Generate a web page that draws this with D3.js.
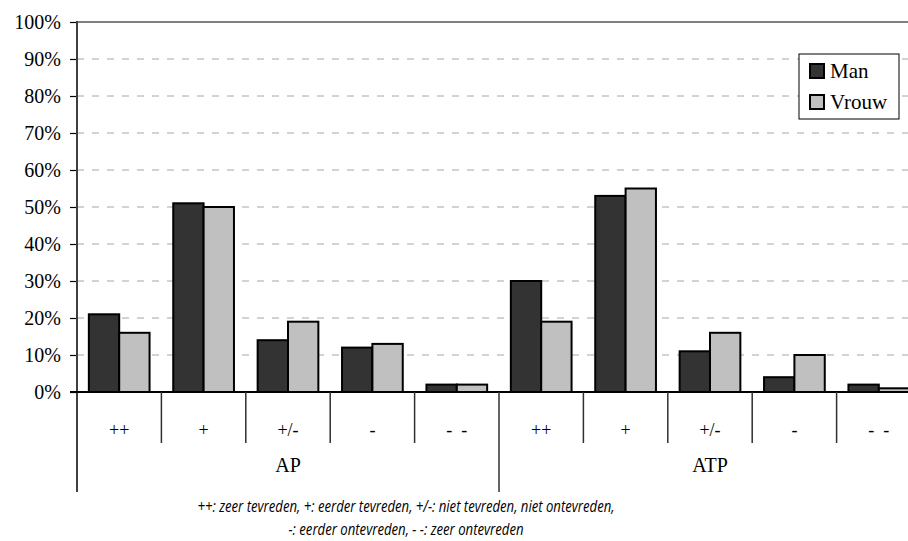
<!DOCTYPE html>
<html>
<head>
<meta charset="utf-8">
<script src="https://cdn.jsdelivr.net/npm/d3@7"></script>
<style>
  html, body { margin: 0; padding: 0; background: #fff; overflow: hidden; }
  svg { display: block; }
</style>
</head>
<body>
<div id="chart"></div>
<script>

// дані
var groups = ["AP", "ATP"];
var answers = ["++", "+", "+/-", "-", "- -"];
var series = ["Man", "Vrouw"];
var man = [21, 51, 14, 12, 2, 30, 53, 11, 4, 2];
var vrouw = [16, 50, 19, 13, 2, 19, 55, 16, 10, 1];
var yTicks = [0, 10, 20, 30, 40, 50, 60, 70, 80, 90, 100];
var footnote = [
    "++: zeer tevreden, +: eerder tevreden, +/-: niet tevreden, niet ontevreden,",
    "-: eerder ontevreden, - -: zeer ontevreden"
];

var color = d3.scaleOrdinal()
    .domain(series)
    .range(["#333333", "#c0c0c0"]);

const width = 908, height = 541;
const margin = {top: 22, left: 77, bottom: 392};
const fontSerif = "Liberation Serif";

// кожна категорія = група + відповідь
var cats = [];
groups.forEach(function(g) {
    answers.forEach(function(a) { cats.push({group: g, answer: a, key: g + "|" + a}); });
});
var rows = cats.map(function(c, i) {
    return {key: c.key, group: c.group, answer: c.answer, Man: man[i], Vrouw: vrouw[i]};
});

const svg = d3.select("#chart").append("svg")
    .attr("width", width)
    .attr("height", height)
    .attr("font-family", fontSerif);

// частина графіка обрізана справа, тому діапазон виходить за межі svg
var x = d3.scaleBand()
    .domain(cats.map(function(c) { return c.key }))
    .range([margin.left, 921])
    .padding(0);

var xs = d3.scaleBand()
    .domain(series)
    .range([0, x.bandwidth()])
    .paddingInner(0)
    .paddingOuter(0.39);

var y = d3.scaleLinear()
    .domain([0, 100])
    .range([margin.bottom, margin.top]);

// сітка
svg.append("g")
    .selectAll("line")
    .data(yTicks.filter(function(t) { return t > 0 && t < 100 }))
    .enter().append("line")
    .attr("x1", margin.left)
    .attr("x2", width)
    .attr("y1", function(d) { return y(d) })
    .attr("y2", function(d) { return y(d) })
    .style("stroke", "#a6a6a6")
    .style("stroke-width", 1)
    .style("stroke-dasharray", "7,8");

// верхня лінія 100%
svg.append("line")
    .attr("x1", margin.left).attr("x2", width)
    .attr("y1", y(100)).attr("y2", y(100))
    .style("stroke", "#808080")
    .style("stroke-width", 2);

// вісь y
var yAxis = svg.append("g")
    .attr("transform", "translate(" + margin.left + ",0)")
    .call(d3.axisLeft(y).tickValues(yTicks).tickSize(7).tickPadding(9)
        .tickFormat(function(d) { return d + "%" }));
yAxis.attr("font-family", fontSerif).attr("font-size", 20);
yAxis.select(".domain").remove();
yAxis.selectAll(".tick line").style("stroke", "#000").style("stroke-width", 1.2);
yAxis.selectAll("text").attr("fill", "#000");

svg.append("line")
    .attr("x1", margin.left).attr("x2", margin.left)
    .attr("y1", margin.top - 1).attr("y2", 492)
    .style("stroke", "#404040")
    .style("stroke-width", 2);

// стовпчики
var bars = svg.append("g")
    .selectAll("g")
    .data(rows)
    .enter().append("g")
    .attr("transform", function(d) { return "translate(" + x(d.key) + ",0)" });

bars.selectAll("rect")
    .data(function(d) { return series.map(function(s) { return {s: s, v: d[s]} }) })
    .enter().append("rect")
    .attr("x", function(d) { return xs(d.s) })
    .attr("y", function(d) { return y(d.v) })
    .attr("width", xs.bandwidth())
    .attr("height", function(d) { return y(0) - y(d.v) })
    .style("fill", function(d) { return color(d.s) })
    .style("stroke", "#000")
    .style("stroke-width", 2);

// лінія 0%
svg.append("line")
    .attr("x1", margin.left - 7).attr("x2", width)
    .attr("y1", y(0)).attr("y2", y(0))
    .style("stroke", "#000")
    .style("stroke-width", 2);

// роздільники категорій
svg.append("g")
    .selectAll("line")
    .data(cats.filter(function(c, i) { return i > 0 }))
    .enter().append("line")
    .attr("x1", function(d) { return x(d.key) })
    .attr("x2", function(d) { return x(d.key) })
    .attr("y1", y(0))
    .attr("y2", function(d) { return d.answer === answers[0] ? 492 : 443 })
    .style("stroke", "#303030")
    .style("stroke-width", 1.5);

svg.append("g")
    .attr("font-family", fontSerif)
    .attr("font-size", 18)
    .selectAll("text")
    .data(cats)
    .enter().append("text")
    .attr("x", function(d) { return x(d.key) + x.bandwidth() / 2 })
    .attr("y", 436)
    .attr("text-anchor", "middle")
    .attr("xml:space", "preserve")
    .text(function(d) { return d.answer.replace(" ", "\u00a0\u00a0") });

svg.append("g")
    .attr("font-family", fontSerif)
    .attr("font-size", 20)
    .selectAll("text")
    .data(groups)
    .enter().append("text")
    .attr("x", function(g) {
        var ks = cats.filter(function(c) { return c.group === g });
        return (x(ks[0].key) + x(ks[ks.length - 1].key) + x.bandwidth()) / 2;
    })
    .attr("y", 472)
    .attr("text-anchor", "middle")
    .text(function(g) { return g });

// примітка
svg.append("g")
    .attr("font-family", "Open Sans")
    .attr("font-style", "italic")
    .attr("font-size", 16)
    .selectAll("text")
    .data(footnote)
    .enter().append("text")
    .attr("x", 406)
    .attr("y", function(d, i) { return 512 + i * 23 })
    .attr("text-anchor", "middle")
    .attr("textLength", function(d, i) { return i === 0 ? 417 : 235 })
    .attr("lengthAdjust", "spacingAndGlyphs")
    .text(function(d) { return d });

// легенда
var legend = svg.append("g").attr("transform", "translate(799,54)");
legend.append("rect")
    .attr("width", 100).attr("height", 65)
    .style("fill", "#fff")
    .style("stroke", "#000")
    .style("stroke-width", 1);

var li = legend.selectAll("g")
    .data(series)
    .enter().append("g")
    .attr("transform", function(d, i) { return "translate(11," + (10 + i * 31) + ")" });

li.append("rect")
    .attr("width", 14).attr("height", 14)
    .style("fill", function(d) { return color(d) })
    .style("stroke", "#000")
    .style("stroke-width", 2);

li.append("text")
    .attr("x", 20)
    .attr("y", 14)
    .attr("font-family", fontSerif)
    .attr("font-size", 21)
    .text(function(d) { return d });

</script>
</body>
</html>
